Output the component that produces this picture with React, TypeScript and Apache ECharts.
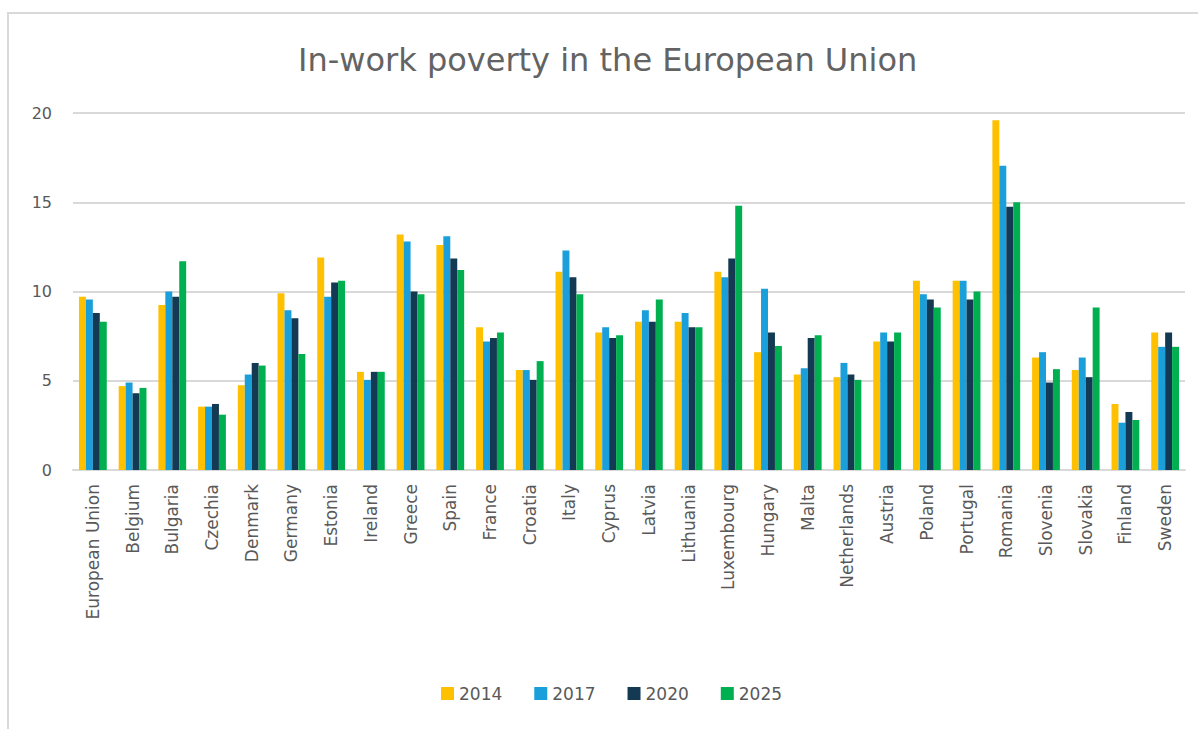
import React, { useEffect, useRef } from "react";
import * as echarts from "echarts";

const categories = [
  "European Union", "Belgium", "Bulgaria", "Czechia", "Denmark", "Germany", "Estonia",
  "Ireland", "Greece", "Spain", "France", "Croatia", "Italy", "Cyprus", "Latvia",
  "Lithuania", "Luxembourg", "Hungary", "Malta", "Netherlands", "Austria", "Poland",
  "Portugal", "Romania", "Slovenia", "Slovakia", "Finland", "Sweden",
];

const years = ["2014", "2017", "2020", "2025"];

const v2014 = [9.7, 4.7, 9.25, 3.55, 4.75, 9.9, 11.9, 5.5, 13.2, 12.6, 8.0, 5.6, 11.1, 7.7, 8.3, 8.3, 11.1, 6.6, 5.35, 5.2, 7.2, 10.6, 10.6, 19.6, 6.3, 5.6, 3.7, 7.7];
const v2017 = [9.55, 4.9, 10.0, 3.55, 5.35, 8.95, 9.7, 5.05, 12.8, 13.1, 7.2, 5.6, 12.3, 8.0, 8.95, 8.8, 10.8, 10.15, 5.7, 6.0, 7.7, 9.85, 10.6, 17.05, 6.6, 6.3, 2.65, 6.9];
const v2020 = [8.8, 4.3, 9.7, 3.7, 6.0, 8.5, 10.5, 5.5, 10.0, 11.85, 7.4, 5.05, 10.8, 7.4, 8.3, 8.0, 11.85, 7.7, 7.4, 5.35, 7.2, 9.55, 9.55, 14.75, 4.9, 5.2, 3.25, 7.7];
const v2025 = [8.3, 4.6, 11.7, 3.1, 5.85, 6.5, 10.6, 5.5, 9.85, 11.2, 7.7, 6.1, 9.85, 7.55, 9.55, 8.0, 14.8, 6.95, 7.55, 5.05, 7.7, 9.1, 10.0, 15.0, 5.65, 9.1, 2.8, 6.9];

const colors = ["#FFC000", "#1A9FDA", "#133A52", "#00B050"];
const seriesValues = [v2014, v2017, v2020, v2025];

export default function App() {
  const ref = useRef<HTMLDivElement>(null);
  useEffect(() => {
    if (!ref.current) return;
    const chart = echarts.init(ref.current, undefined, { renderer: "svg" });
    const font = "DejaVu Sans";
    chart.setOption({
      animation: false,
      backgroundColor: "#ffffff",
      color: colors,
      graphic: [
        {
          type: "rect",
          shape: { x: 8, y: 13, width: 1200, height: 730 },
          style: { fill: "none", stroke: "#d9d9d9", lineWidth: 2 },
          silent: true,
        },
      ],
      title: {
        text: "In-work poverty in the European Union",
        left: 293,
        top: 39,
        textStyle: { fontFamily: font, fontSize: 32, fontWeight: "normal", color: "#636363" },
      },
      legend: {
        data: years,
        bottom: 22,
        left: 436,
        icon: "rect",
        itemWidth: 13,
        itemHeight: 13,
        itemGap: 32,
        textStyle: { fontFamily: font, fontSize: 17, color: "#595959" },
      },
      grid: { left: 73, right: 13, top: 113, bottom: 259 },
      xAxis: {
        type: "category",
        data: categories,
        axisLine: { lineStyle: { color: "#d9d9d9", width: 2 } },
        axisTick: { show: false },
        axisLabel: {
          rotate: 90,
          interval: 0,
          margin: 14,
          fontFamily: font,
          fontSize: 17,
          color: "#595959",
        },
      },
      yAxis: {
        type: "value",
        min: 0,
        max: 20,
        interval: 5,
        axisLine: { show: false },
        axisTick: { show: false },
        axisLabel: { margin: 21, fontFamily: font, fontSize: 16, color: "#595959" },
        splitLine: { lineStyle: { color: "#d9d9d9", width: 2 } },
      },
      series: years.map((y, i) => ({
        name: y,
        type: "bar",
        data: seriesValues[i],
        barGap: "0%",
        barCategoryGap: "30%",
        itemStyle: { color: colors[i] },
      })),
    });
    return () => chart.dispose();
  }, []);
  return (
    <div
      ref={ref}
      style={{ position: "fixed", left: 0, top: 0, width: 1198, height: 729 }}
    />
  );
}
